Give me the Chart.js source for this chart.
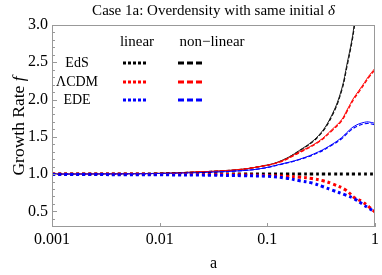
<!DOCTYPE html>
<html>
<head>
<meta charset="utf-8">
<script src="https://cdn.jsdelivr.net/npm/chart.js@4"></script>
<style>
  body { margin: 0; background: #fff; }
  canvas { display: block; }
</style>
</head>
<body>
<canvas id="myChart" width="382" height="275"></canvas>
<script>
// scale factor a
var aNonLin = [0.001, 0.003, 0.01, 0.0234, 0.05, 0.084, 0.13, 0.2, 0.3, 0.4, 0.49, 0.55, 0.61, 0.64, 0.7, 0.8, 0.87, 1];
var edsNonLin    = [1.0, 1.003, 1.01, 1.03, 1.055, 1.10, 1.17, 1.32, 1.52, 1.80, 2.14, 2.48, 2.80, 3.0, 3.4, 4.0, 4.5, 5.5];
var edsNonLin2   = [1.0, 1.003, 1.01, 1.03, 1.055, 1.10, 1.168, 1.315, 1.51, 1.785, 2.12, 2.45, 2.77, 2.96, 3.35, 3.95, 4.45, 5.4];
var lcdmNonLin   = [1.0, 1.003, 1.01, 1.03, 1.055, 1.10, 1.165, 1.30, 1.44, 1.60, 1.73, 1.86, 1.98, 2.03, 2.11, 2.23, 2.31, 2.42];
var lcdmNonLin2  = [1.0, 1.003, 1.01, 1.03, 1.055, 1.10, 1.16, 1.29, 1.43, 1.585, 1.715, 1.84, 1.96, 2.01, 2.09, 2.21, 2.29, 2.40];
var edeNonLin    = [1.0, 1.002, 1.008, 1.02, 1.04, 1.07, 1.13, 1.20, 1.30, 1.40, 1.49, 1.56, 1.62, 1.64, 1.67, 1.695, 1.70, 1.68];
var edeNonLin2   = [1.0, 1.002, 1.008, 1.02, 1.04, 1.07, 1.125, 1.195, 1.29, 1.39, 1.475, 1.545, 1.60, 1.62, 1.65, 1.675, 1.68, 1.66];

var aLin = [0.001, 0.01, 0.03, 0.06, 0.1, 0.15, 0.2, 0.26, 0.33, 0.4, 0.53, 0.65, 0.76, 0.88, 1];
var edsLin  = [1, 1, 1, 1, 1, 1, 1, 1, 1, 1, 1, 1, 1, 1, 1];
var lcdmLin = [1.0, 0.999, 0.995, 0.99, 0.98, 0.97, 0.958, 0.94, 0.91, 0.87, 0.79, 0.68, 0.63, 0.56, 0.49];
var edeLin  = [0.995, 0.99, 0.985, 0.978, 0.97, 0.945, 0.91, 0.88, 0.83, 0.785, 0.72, 0.665, 0.60, 0.54, 0.49];

var xTicks = [0.001, 0.01, 0.1, 1];
var xTickLabels = ["0.001", "0.01", "0.1", "1"];
var yTicks = [0.5, 1.0, 1.5, 2.0, 2.5, 3.0];

var legendRows = ["EdS", "\u039BCDM", "EDE"];
var legendColors = ["#000", "#ff0000", "#0000ff"];

var serif = "'Liberation Serif', 'DejaVu Serif', serif";

function pts(xs, ys) {
  return xs.map(function (x, i) { return {x: x, y: ys[i]}; });
}

function dotted(data, color) {
  return {data: data, borderColor: color, borderWidth: 3, borderDash: [3, 3],
          pointRadius: 0, tension: 0.4, fill: false};
}
function solid(data, color) {
  return {data: data, borderColor: color, borderWidth: 1, pointRadius: 0, tension: 0.4, fill: false};
}
function dashed(data, color) {
  return {data: data, borderColor: color, borderWidth: 1.2, borderDash: [4, 2],
          pointRadius: 0, tension: 0.4, fill: false};
}

var decor = {
  id: 'decor',
  afterDraw: function (chart) {
    var c = chart.ctx, ca = chart.chartArea;
    var xs = chart.scales.x, ys = chart.scales.y;
    c.save();
    // frame
    c.strokeStyle = '#999';
    c.lineWidth = 1;
    c.strokeRect(ca.left + 0.5, ca.top + 0.5, ca.right - ca.left - 1, ca.bottom - ca.top - 1);
    // inward ticks
    c.beginPath();
    for (var v = 3; v <= 30; v++) {
      var y = Math.round(ys.getPixelForValue(v / 10)) + 0.5;
      var len = (v % 5 === 0) ? 5 : 3;
      c.moveTo(ca.left, y); c.lineTo(ca.left + len, y);
    }
    xTicks.forEach(function (t) {
      var x = Math.round(xs.getPixelForValue(t)) + 0.5;
      c.moveTo(x, ca.bottom); c.lineTo(x, ca.bottom - 4);
    });
    c.stroke();

    c.fillStyle = '#000';
    c.textBaseline = 'middle';
    // title
    var tTxt = 'Case 1a: Overdensity with same initial ';
    c.font = '15px ' + serif;
    var w1 = c.measureText(tTxt).width;
    c.font = 'italic 15px ' + serif;
    var w2 = c.measureText('\u03B4').width;
    var tx = (ca.left + ca.right) / 2 - (w1 + w2) / 2;
    c.textAlign = 'left';
    c.font = '15px ' + serif;
    c.fillText(tTxt, tx, 11);
    c.font = 'italic 15px ' + serif;
    c.fillText('\u03B4', tx + w1, 11);

    // y axis title
    c.save();
    c.translate(19, (ca.top + ca.bottom) / 2);
    c.rotate(-Math.PI / 2);
    c.font = '17.5px ' + serif;
    var yt = 'Growth Rate ';
    var yw1 = c.measureText(yt).width;
    c.font = 'italic 17.5px ' + serif;
    var yw2 = c.measureText('f').width;
    c.font = '17.5px ' + serif;
    c.fillText(yt, -(yw1 + yw2) / 2, 0);
    c.font = 'italic 17.5px ' + serif;
    c.fillText('f', -(yw1 + yw2) / 2 + yw1, 0);
    c.restore();

    // legend
    c.textAlign = 'center';
    c.font = '15px ' + serif;
    c.fillText('linear', 137, 42);
    c.fillText('non\u2212linear', 212, 42);
    c.font = '14px ' + serif;
    var rowsY = [63, 82, 100];
    legendRows.forEach(function (name, i) {
      c.fillStyle = '#000';
      c.fillText(name, 77, rowsY[i]);
      c.strokeStyle = legendColors[i];
      c.lineWidth = 2.8;
      c.setLineDash([3, 2]);
      c.beginPath(); c.moveTo(123, rowsY[i]); c.lineTo(147, rowsY[i]); c.stroke();
      c.setLineDash([6, 3]);
      c.beginPath(); c.moveTo(178, rowsY[i]); c.lineTo(202, rowsY[i]); c.stroke();
      c.setLineDash([]);
    });
    c.restore();
  }
};

var ctx = document.getElementById('myChart').getContext('2d');
var myChart = new Chart(ctx, {
  type: 'line',
  data: {
    datasets: [
      dotted(pts(aLin, edeLin), legendColors[2]),
      dotted(pts(aLin, lcdmLin), legendColors[1]),
      dotted(pts(aLin, edsLin), legendColors[0]),
      solid(pts(aNonLin, edeNonLin), legendColors[2]),
      dashed(pts(aNonLin, edeNonLin2), legendColors[2]),
      solid(pts(aNonLin, lcdmNonLin), legendColors[1]),
      dashed(pts(aNonLin, lcdmNonLin2), legendColors[1]),
      solid(pts(aNonLin, edsNonLin), '#222'),
      dashed(pts(aNonLin, edsNonLin2), '#000')
    ]
  },
  options: {
    responsive: false,
    animation: false,
    layout: {padding: {top: 25, right: 6, left: 0, bottom: 0}},
    plugins: {legend: {display: false}, tooltip: {enabled: false}},
    scales: {
      x: {
        type: 'logarithmic',
        min: 0.001, max: 1,
        afterBuildTicks: function (s) { s.ticks = xTicks.map(function (v) { return {value: v}; }); },
        afterFit: function (s) { s.height = 48; },
        ticks: {
          autoSkip: false, maxRotation: 0, padding: 3, color: '#000',
          font: {family: serif, size: 16},
          callback: function (v) { return xTickLabels[xTicks.indexOf(v)]; }
        },
        grid: {display: false, drawTicks: false},
        border: {display: false},
        title: {display: true, text: 'a', color: '#000', font: {family: serif, size: 16},
                padding: {top: 0, bottom: 2}}
      },
      y: {
        type: 'linear',
        min: 0.29, max: 3.0,
        afterBuildTicks: function (s) { s.ticks = yTicks.map(function (v) { return {value: v}; }); },
        afterFit: function (s) { s.width = 52; },
        ticks: {
          padding: 4, color: '#000',
          font: {family: serif, size: 16},
          callback: function (v) { return v.toFixed(1); }
        },
        grid: {display: false, drawTicks: false},
        border: {display: false}
      }
    }
  },
  plugins: [decor]
});
</script>
</body>
</html>
